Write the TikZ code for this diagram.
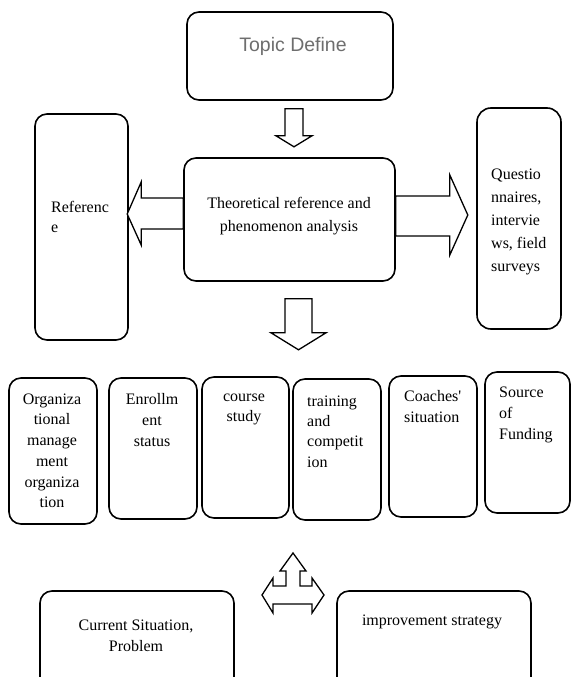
\documentclass[tikz,border=0pt]{standalone}
\usepackage{fontspec}
\setmainfont{Liberation Serif}
\newfontfamily\topicfont{Liberation Sans}
\definecolor{topicgray}{HTML}{6E6E6E}
\begin{document}
\begin{tikzpicture}[x=1pt,y=-1pt,
  box/.style={draw, line width=1.6pt, rounded corners=12pt, fill=white, inner sep=0pt},
  blockarrow/.style={draw, line width=1.3pt, fill=white, line join=miter},
  txt/.style={inner sep=0pt, font=\fontsize{16}{20.7}\selectfont, execute at begin node=\strut},
  wide/.style={font=\fontsize{16}{23}\selectfont},
  narrow/.style={font=\fontsize{16}{20}\selectfont},
]
\useasboundingbox (0,0) rectangle (571,677);
\clip (0,0) rectangle (571,677);

% boxes
\node[box, minimum width=206pt, minimum height=88pt] (topic) at (290,56) {};
\node[box, minimum width=93pt, minimum height=226pt] (ref) at (81.5,227) {};
\node[box, minimum width=211pt, minimum height=123pt] (theory) at (289.5,219.5) {};
\node[box, minimum width=84pt, minimum height=221pt, rounded corners=14pt] (survey) at (519,218.5) {};

\node[box, minimum width=88pt, minimum height=146pt] (org) at (53,451) {};
\node[box, minimum width=88pt, minimum height=141pt] (enrol) at (153,448.5) {};
\node[box, minimum width=87pt, minimum height=141pt] (course) at (245.5,447.5) {};
\node[box, minimum width=88pt, minimum height=141pt] (train) at (337,449.5) {};
\node[box, minimum width=88pt, minimum height=141pt] (coach) at (433,446.5) {};
\node[box, minimum width=85pt, minimum height=141pt] (fund) at (527.5,442.5) {};

\node[box, minimum width=194pt, minimum height=129pt] (current) at (137,655.5) {};
\node[box, minimum width=194pt, minimum height=129pt] (improve) at (434,655.5) {};

% texts
\node[inner sep=0pt, font=\topicfont\fontsize{19.5}{23}\selectfont, text=topicgray, anchor=base] (topict) at (293,52) {Topic Define};
\node[txt, wide, anchor=north, align=center] (theoryt) at (289,197) {Theoretical reference and\\phenomenon analysis};
\node[txt, narrow, anchor=north west, align=left] (reft) at (51,201) {Referenc\\e};
\node[txt, wide, anchor=north west, align=left] (surveyt) at (491,169) {Questio\\nnaires,\\intervie\\ws, field\\surveys};

\node[txt, anchor=north, align=center] (orgt) at (52,393.5) {Organiza\\tional\\manage\\ment\\organiza\\tion};
\node[txt, anchor=north, align=center] (enrolt) at (152,393.5) {Enrollm\\ent\\status};
\node[txt, anchor=north, align=center] (courset) at (244,393.5) {course\\study};
\node[txt, font=\fontsize{16}{20.3}\selectfont, anchor=north west, align=left] (traint) at (307,395.5) {training\\and\\competit\\ion};
\node[txt, anchor=north west, align=left] (coacht) at (404,390.5) {Coaches\textquotesingle\\situation};
\node[txt, font=\fontsize{16}{21}\selectfont, anchor=north west, align=left] (fundt) at (499,386.5) {Source\\of\\Funding};

\node[txt, font=\fontsize{16}{21}\selectfont, anchor=north, align=center] (currentt) at (136,620) {Current Situation,\\Problem};
\node[txt, anchor=north, align=center] (improvet) at (432,611) {improvement strategy};

% block arrows
\draw[blockarrow] (topic.south) ++(-5,8) -- ++(18,0) -- ++(0,27) -- ++(9,0) -- ++(-18,11) -- ++(-18,-11) -- ++(9,0) -- cycle;
\draw[blockarrow] (theory.west) ++(0,-21.5) -- ++(-42,0) -- ++(0,-16) -- ++(-14,32) -- ++(14,31) -- ++(0,-16) -- ++(42,0) -- cycle;
\draw[blockarrow] (theory.east) ++(0,-23.5) -- ++(54,0) -- ++(0,-21) -- ++(18,40) -- ++(-18,40) -- ++(0,-19) -- ++(-54,0) -- cycle;
\draw[blockarrow] (theory.south) ++(-4.5,17) -- ++(27,0) -- ++(0,34) -- ++(14,0) -- ++(-27.5,17) -- ++(-27.5,-17) -- ++(14,0) -- cycle;

\coordinate (hub) at (293,595);
\draw[blockarrow] (hub) ++(0,-42) -- ++(13,18) -- ++(-6,0) -- ++(0,15) -- ++(12,0) -- ++(0,-8) -- ++(12,17) -- ++(-12,18) -- ++(0,-9) -- ++(-39,0) -- ++(0,9) -- ++(-11,-18) -- ++(11,-17) -- ++(0,8) -- ++(13,0) -- ++(0,-15) -- ++(-6,0) -- cycle;
\end{tikzpicture}
\end{document}
